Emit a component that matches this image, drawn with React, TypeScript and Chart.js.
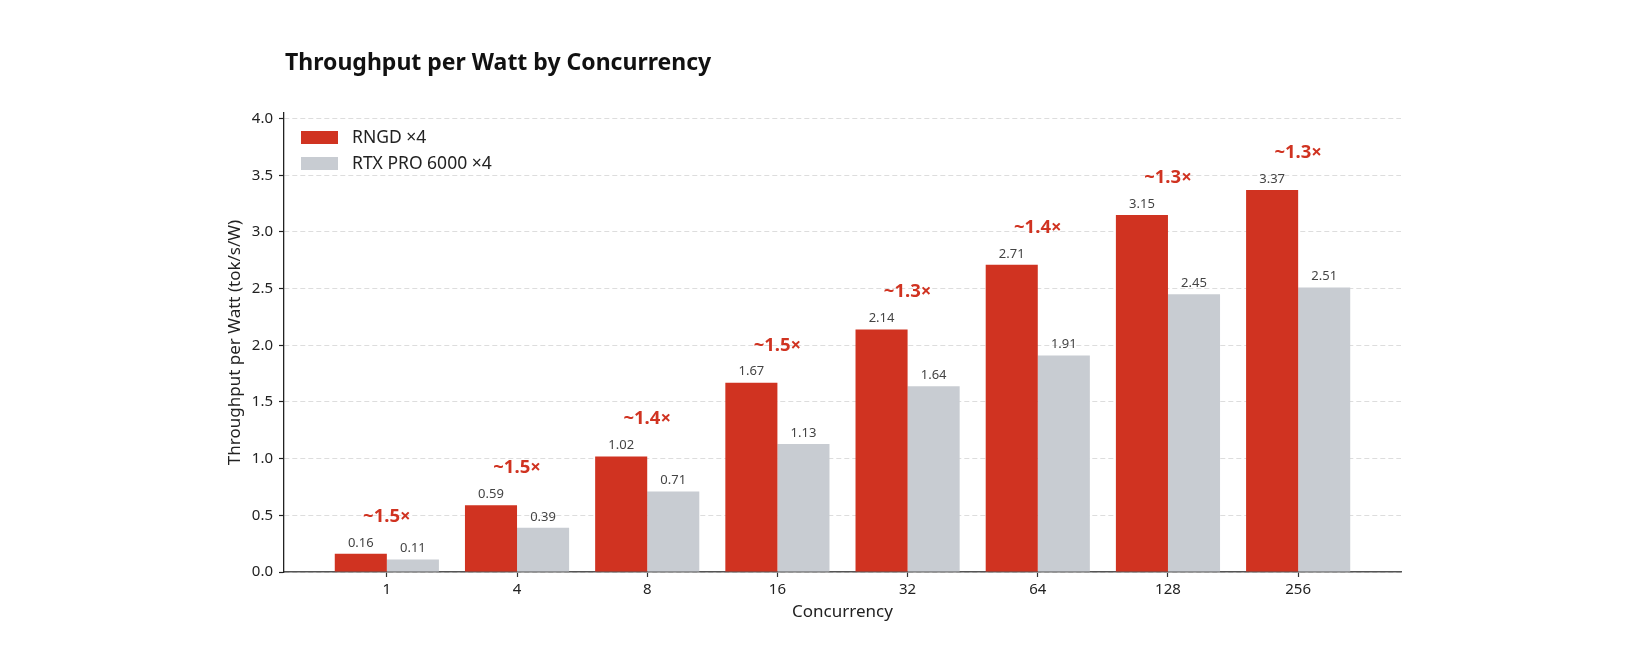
import React, { useEffect, useRef } from "react";
import { Chart, registerables } from "chart.js";

Chart.register(...registerables);

const CATEGORIES = ["1", "4", "8", "16", "32", "64", "128", "256"];
const RNGD = [0.16, 0.59, 1.02, 1.67, 2.14, 2.71, 3.15, 3.37];
const RTX = [0.11, 0.39, 0.71, 1.13, 1.64, 1.91, 2.45, 2.51];
const RATIO_LABELS = ["~1.5×", "~1.5×", "~1.4×", "~1.5×", "~1.3×", "~1.4×", "~1.3×", "~1.3×"];
const SERIES_NAMES = ["RNGD ×4", "RTX PRO 6000 ×4"];
const Y_TICKS = [0, 0.5, 1, 1.5, 2, 2.5, 3, 3.5, 4];

const TITLE = "Throughput per Watt by Concurrency";
const X_TITLE = "Concurrency";
const Y_TITLE = "Throughput per Watt (tok/s/W)";

const RED = "#D03321";
const GRAY = "#C8CCD2";
const FONT = "'Noto Sans', 'DejaVu Sans', sans-serif";

const overlay = {
  id: "overlay",
  afterDatasetsDraw(chart: any) {
    const { ctx, chartArea, scales } = chart;
    const xs = scales.x;
    const ys = scales.y;
    ctx.save();
    // value labels
    ctx.font = `13px ${FONT}`;
    ctx.fillStyle = "#444";
    ctx.textAlign = "center";
    ctx.textBaseline = "middle";
    chart.data.datasets.forEach((ds: any, di: number) => {
      const meta = chart.getDatasetMeta(di);
      meta.data.forEach((bar: any, i: number) => {
        const v = ds.data[i].y;
        ctx.fillText(v.toFixed(2), bar.x, bar.y - 11);
      });
    });
    // ratio labels
    ctx.font = `bold 18.5px ${FONT}`;
    ctx.fillStyle = RED;
    RATIO_LABELS.forEach((t, i) => {
      ctx.fillText(t, xs.getPixelForValue(i), ys.getPixelForValue(RNGD[i] + 0.33));
    });
    // legend
    ctx.textAlign = "left";
    ctx.font = `17.5px ${FONT}`;
    chart.data.datasets.forEach((ds: any, di: number) => {
      const top = chartArea.top + 18 + di * 26;
      ctx.fillStyle = ds.backgroundColor;
      ctx.fillRect(chartArea.left + 17, top, 37, 13);
      ctx.fillStyle = "#222";
      ctx.fillText(ds.label, chartArea.left + 68, top + 7);
    });
    // title
    ctx.font = `bold 23px ${FONT}`;
    ctx.fillStyle = "#111";
    ctx.fillText(TITLE, chartArea.left + 1, 63);
    // axis titles
    ctx.font = `17px ${FONT}`;
    ctx.fillStyle = "#222";
    ctx.textAlign = "center";
    ctx.fillText(X_TITLE, (chartArea.left + chartArea.right) / 2, 612);
    ctx.translate(235, (chartArea.top + chartArea.bottom) / 2);
    ctx.rotate(-Math.PI / 2);
    ctx.fillText(Y_TITLE, 0, 0);
    ctx.restore();
  },
};

export default function App() {
  const ref = useRef<HTMLCanvasElement | null>(null);
  useEffect(() => {
    if (!ref.current) return;
    const chart = new Chart(ref.current, {
      type: "bar",
      data: {
        datasets: [
          {
            label: SERIES_NAMES[0],
            data: RNGD.map((y, i) => ({ x: i, y })),
            backgroundColor: RED,
            categoryPercentage: 0.8,
            barPercentage: 1.0,
          },
          {
            label: SERIES_NAMES[1],
            data: RTX.map((y, i) => ({ x: i, y })),
            backgroundColor: GRAY,
            categoryPercentage: 0.8,
            barPercentage: 1.0,
          },
        ],
      },
      plugins: [overlay],
      options: {
        animation: false,
        responsive: false,
        devicePixelRatio: 1,
        layout: { padding: { left: 0, right: 227, top: 113, bottom: 0 } },
        plugins: {
          legend: { display: false },
          title: { display: false },
          tooltip: { enabled: false },
        },
        scales: {
          x: {
            type: "linear",
            min: -0.79,
            max: 7.79,
            offset: false,
            afterFit: (s: any) => {
              s.height = 92;
            },
            afterBuildTicks: (s: any) => {
              s.ticks = CATEGORIES.map((_, i) => ({ value: i }));
            },
            ticks: {
              callback: (v: any) => CATEGORIES[v] ?? "",
              font: { family: FONT, size: 15 },
              color: "#222",
              padding: 4,
              maxRotation: 0,
              autoSkip: false,
            },
            grid: {
              offset: false,
              drawOnChartArea: false,
              drawTicks: true,
              tickLength: 5,
              tickColor: "#333",
              tickWidth: 1.2,
            },
            border: { display: true, color: "#555", width: 1.6 },
          },
          y: {
            min: 0,
            max: 4.05,
            afterFit: (s: any) => {
              s.width = 284;
            },
            afterBuildTicks: (s: any) => {
              s.ticks = Y_TICKS.map((v) => ({ value: v }));
            },
            ticks: {
              callback: (v: any) => Number(v).toFixed(1),
              font: { family: FONT, size: 15 },
              color: "#222",
              padding: 6,
            },
            grid: {
              color: "#DDDDDD",
              lineWidth: 1,
              tickBorderDash: [],
              tickLength: 5,
              tickColor: "#222",
              tickWidth: 1.2,
            },
            border: { display: true, color: "#222", width: 1.3, dash: [5, 3] },
          },
        },
      } as any,
    });
    return () => chart.destroy();
  }, []);
  return (
    <div style={{ position: "absolute", left: 0, top: 0, width: 1628, height: 664, background: "#fff" }}>
      <canvas ref={ref} width={1628} height={664} style={{ display: "block" }} />
    </div>
  );
}
